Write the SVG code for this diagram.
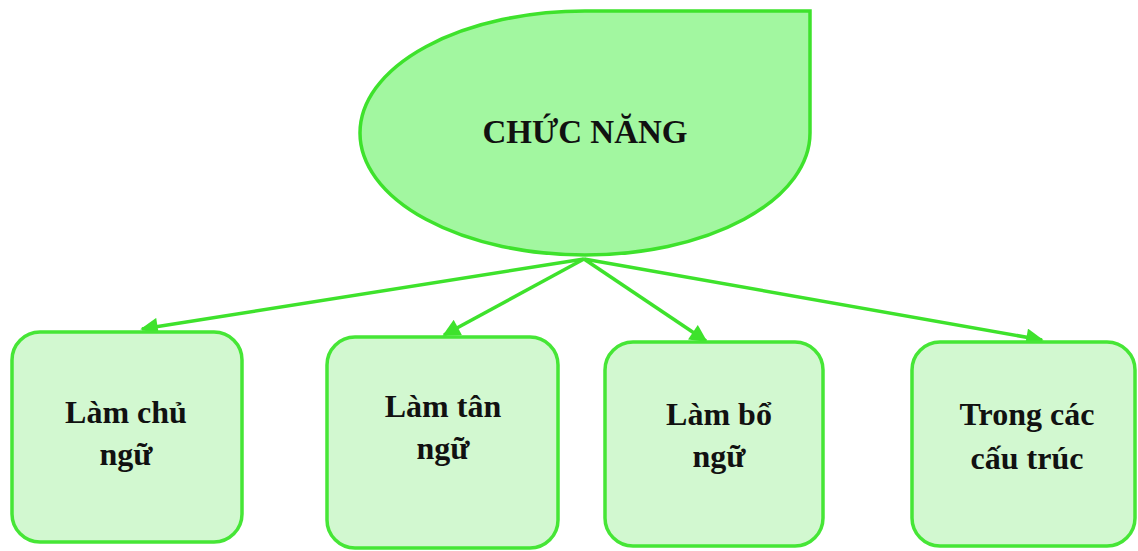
<svg xmlns="http://www.w3.org/2000/svg" width="1138" height="551" viewBox="0 0 1138 551">
  <style>
    .main { fill: #a2f7a0; stroke: #3ee22c; stroke-width: 3.5; }
    .box { fill: #d2f8d0; stroke: #46e636; stroke-width: 3.5; }
    .title { font-family: "Liberation Serif", "DejaVu Serif", serif; font-weight: bold; font-size: 33px; fill: #111; text-anchor: middle; }
    .label { font-family: "Liberation Serif", "DejaVu Serif", serif; font-weight: bold; font-size: 32px; fill: #111; text-anchor: middle; }
    .link { stroke: #3ee22c; stroke-width: 3.5; fill: none; marker-end: url(#head); }
  </style>
  <defs>
    <marker id="head" viewBox="0 0 10 10" refX="9" refY="5" markerWidth="5.5" markerHeight="5" orient="auto" markerUnits="strokeWidth">
      <path d="M0,0 L10,5 L0,10 Z" fill="#3ee22c"/>
    </marker>
  </defs>
  <rect width="1138" height="551" fill="#ffffff"/>

  <!-- connectors -->
  <g id="connectors">
    <line class="link" x1="584" y1="259" x2="142" y2="329"/>
    <line class="link" x1="584" y1="259" x2="444" y2="335"/>
    <line class="link" x1="584" y1="259" x2="706" y2="341"/>
    <line class="link" x1="584" y1="259" x2="1042" y2="340"/>
  </g>

  <!-- root: teardrop with square top-right corner -->
  <g id="root">
    <path class="main" d="M585,11 L810,11 L810,133 A225,122 0 0 1 585,255 A225,122 0 0 1 360,133 A225,122 0 0 1 585,11 Z"/>
    <text class="title" x="585" y="143">CHỨC NĂNG</text>
  </g>

  <g id="node-subject">
    <rect class="box" x="12" y="332" width="230" height="210" rx="28"/>
    <text class="label" x="126" y="423">Làm chủ</text>
    <text class="label" x="126" y="465">ngữ</text>
  </g>

  <g id="node-object">
    <rect class="box" x="327" y="337" width="231" height="211" rx="28"/>
    <text class="label" x="443" y="417">Làm tân</text>
    <text class="label" x="443" y="459">ngữ</text>
  </g>

  <g id="node-complement">
    <rect class="box" x="605" y="342" width="218" height="204" rx="28"/>
    <text class="label" x="719" y="425">Làm bổ</text>
    <text class="label" x="719" y="467">ngữ</text>
  </g>

  <g id="node-structures">
    <rect class="box" x="912" y="342" width="223" height="204" rx="28"/>
    <text class="label" x="1027" y="425">Trong các</text>
    <text class="label" x="1027" y="469">cấu trúc</text>
  </g>
</svg>
